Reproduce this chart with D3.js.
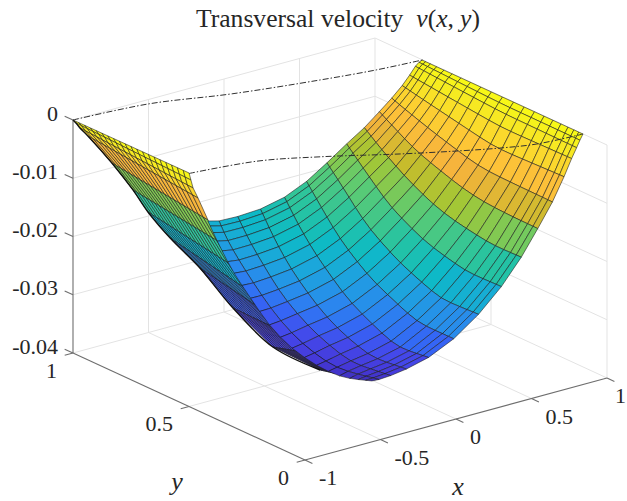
<!DOCTYPE html>
<html>
<head>
<meta charset="utf-8">
<script src="https://cdn.jsdelivr.net/npm/d3@7"></script>
<style>
  html, body { margin: 0; background: #fff; overflow: hidden; }
  text { font-family: "Liberation Serif", serif; fill: #262626; }
</style>
</head>
<body>
<div id="chart"></div>
<script>
// ticks
var xTicks = [-1, -0.5, 0, 0.5, 1];
var yTicks = [0, 0.5, 1];
var zTicks = [-0.04, -0.03, -0.02, -0.01, 0];
var xTickLabels = ["-1", "-0.5", "0", "0.5", "1"];
var yTickLabels = ["0", "0.5", "1"];
var zTickLabels = ["-0.04", "-0.03", "-0.02", "-0.01", "0"];

// upper sheet of the surface, one list per mesh row
var rowX = [
  [0.997, 0.999],
  [0.987, 0.965, 0.959],
  [0.979, 0.949, 0.935],
  [0.916, 0.893, 0.904],
  [0.876, 0.782, 0.843],
  [0.818, 0.815, 0.699, 0.707],
  [0.756, 0.618, 0.553, 0.594],
  [0.698, 0.608, 0.530, 0.459, 0.437, 0.476],
  [0.592, 0.494, 0.325, 0.245, 0.273, 0.306],
  [0.407, 0.310, 0.157, 0.097, 0.061, 0.141],
  [0.257, 0.156, 0.048, -0.018, -0.040, -0.005],
  [0.100, -0.056, -0.138, -0.210, -0.202, -0.101],
  [-0.033, -0.217, -0.284, -0.346, -0.283, -0.202, -0.139],
  [-0.140, -0.269, -0.320, -0.386, -0.377, -0.353, -0.269, -0.123],
  [-0.242, -0.301, -0.316, -0.371, -0.388, -0.378, -0.266, -0.105],
  [-0.245, -0.296, -0.365, -0.407, -0.444, -0.425, -0.317, -0.206, -0.059]
];
var rowY = [
  [0.795, 0.103],
  [0.802, 0.439, 0.090],
  [0.810, 0.428, 0.087],
  [0.795, 0.391, 0.088],
  [0.799, 0.328, 0.079],
  [0.808, 0.772, 0.364, 0.042],
  [0.820, 0.571, 0.256, 0.033],
  [0.847, 0.702, 0.552, 0.380, 0.125, 0.025],
  [0.855, 0.723, 0.496, 0.280, 0.126, 0.001],
  [0.821, 0.689, 0.482, 0.305, 0.109, -0.007],
  [0.810, 0.688, 0.540, 0.372, 0.151, 0.006],
  [0.802, 0.636, 0.505, 0.321, 0.123, 0.055],
  [0.823, 0.639, 0.540, 0.361, 0.303, 0.239, 0.130],
  [0.853, 0.713, 0.628, 0.499, 0.436, 0.357, 0.282, 0.204],
  [0.872, 0.809, 0.756, 0.612, 0.540, 0.448, 0.370, 0.268],
  [0.910, 0.833, 0.724, 0.615, 0.513, 0.426, 0.380, 0.353, 0.324]
];
var rowZ = [
  [0, 0],
  [-0.0004, -0.0006, -0.0005],
  [-0.001, -0.0015, -0.0015],
  [-0.002, -0.003, -0.003],
  [-0.0035, -0.005, -0.0055],
  [-0.0055, -0.006, -0.008, -0.0085],
  [-0.0075, -0.009, -0.011, -0.012],
  [-0.0105, -0.0115, -0.0125, -0.014, -0.0155, -0.016],
  [-0.0125, -0.0135, -0.015, -0.017, -0.019, -0.0195],
  [-0.014, -0.015, -0.017, -0.0195, -0.022, -0.023],
  [-0.016, -0.017, -0.019, -0.022, -0.0255, -0.0265],
  [-0.0175, -0.0185, -0.0205, -0.0245, -0.029, -0.03],
  [-0.019, -0.02, -0.022, -0.026, -0.0295, -0.0325, -0.033],
  [-0.02, -0.021, -0.0225, -0.0255, -0.0275, -0.03, -0.0335, -0.0355],
  [-0.0205, -0.0215, -0.0235, -0.027, -0.029, -0.032, -0.036, -0.0375],
  [-0.021, -0.023, -0.0255, -0.028, -0.0305, -0.033, -0.036, -0.038, -0.039]
];
// where the mesh columns sit along a row
var colT = [0, 0.02, 0.05, 0.09, 0.135, 0.185, 0.24, 0.3, 0.365, 0.43, 0.5, 0.57, 0.635, 0.7, 0.76, 0.815, 0.865, 0.91, 0.945, 0.975, 1];

// narrow sheet seen from below on the left, rows go left end -> right end
var stripLeftX = [-1, -0.962, -0.885, -0.766, -0.621, -0.566, -0.545, -0.504, -0.387, -0.400, -0.323, -0.176];
var stripLeftY = [1, 1.012, 1.045, 1.088, 1.079, 1.024, 0.973, 0.904, 0.852, 0.701, 0.579, 0.471];
var stripRightX = [-0.995, -0.998, -0.956, -0.868, -0.736, -0.679, -0.684, -0.665, -0.526, -0.410, -0.175, -0.103];
var stripRightY = [0.503, 0.493, 0.511, 0.547, 0.590, 0.571, 0.503, 0.433, 0.438, 0.406, 0.429, 0.368];
var stripZ = [0, -0.001, -0.003, -0.006, -0.0115, -0.0155, -0.0185, -0.022, -0.027, -0.031, -0.036, -0.039];
var stripT = [0, 0.05, 0.1, 0.15, 0.2, 0.25, 0.3, 0.35, 0.4, 0.45, 0.5, 0.55, 0.6, 0.65, 0.7, 0.75, 0.8, 0.85, 0.9, 0.95, 1];

// dash-dot outlines at z = 0
var backX = [-1, -0.54, -0.1, 0.39, 0.72, 1];
var backY = [1, 0.974, 0.90, 0.841, 0.81, 0.795];
var frontX = [-1, -0.6, -0.3, 0.056, 0.325, 0.526, 0.717, 1];
var frontY = [0.5, 0.463, 0.388, 0.278, 0.203, 0.153, 0.118, 0.103];

// colours
var colorZ = [0, -0.0015, -0.004, -0.0065, -0.009, -0.0105, -0.0125, -0.0145, -0.0175, -0.0195, -0.022, -0.025, -0.028, -0.031, -0.035, -0.04];
var colorHex = ["#f9fb15", "#f5ee1f", "#fbd92c", "#fdc338", "#f5b33c", "#c8bc2c", "#a3c736", "#5fcb70", "#25c3a3", "#0dbac6", "#1ca6dc", "#2a88ee", "#3565f5", "#4448ea", "#4538d8", "#3d2db0"];

var width = 627, height = 501;
var svg = d3.select("#chart").append("svg")
  .attr("width", width)
  .attr("height", height);

// 3d box -> screen
var ox = 305, oy = 460;
var xRight = d3.scaleLinear().domain([-1, 1]).range([0, 302]);
var xUp = d3.scaleLinear().domain([-1, 1]).range([0, -82]);
var yRight = d3.scaleLinear().domain([0, 1]).range([0, -232]);
var yUp = d3.scaleLinear().domain([0, 1]).range([0, -107]);
var zUp = d3.scaleLinear().domain([-0.04, 0]).range([0, -233]);
var color = d3.scaleLinear().domain(colorZ).range(colorHex);

function project(x, y, z) {
  return [ox + xRight(x) + yRight(y), oy + xUp(x) + yUp(y) + zUp(z)];
}

// nodes along a row, spaced by screen length
function sampleRow(xs, ys, zs, ts) {
  var pts = xs.map(function(d, i) { return project(xs[i], ys[i], zs[i]); });
  var len = [0];
  for (var i = 1; i < pts.length; i++) {
    len.push(len[i-1] + Math.hypot(pts[i][0]-pts[i-1][0], pts[i][1]-pts[i-1][1]));
  }
  var total = len[len.length-1];
  return ts.map(function(t) {
    var s = t * total, k = 0;
    while (k < len.length - 2 && len[k+1] < s) k++;
    var f = (s - len[k]) / (len[k+1] - len[k]);
    var z = zs[k] + f * (zs[k+1] - zs[k]);
    var p = project(xs[k] + f * (xs[k+1]-xs[k]), ys[k] + f * (ys[k+1]-ys[k]), z);
    return {p: p, z: z};
  });
}

// takes the corners out of the hand-read rows, ends stay put
function soften(grid) {
  return grid.map(function(row, i) {
    return row.map(function(n, j) {
      var p = n.p;
      var a = (j > 0 && j < row.length - 1) ? [row[j-1].p, row[j+1].p] : [p, p];
      var b = (i > 0 && i < grid.length - 1) ? [grid[i-1][j].p, grid[i+1][j].p] : [p, p];
      return {
        p: [0.5 * p[0] + 0.15 * (a[0][0] + a[1][0]) + 0.1 * (b[0][0] + b[1][0]),
            0.5 * p[1] + 0.15 * (a[0][1] + a[1][1]) + 0.1 * (b[0][1] + b[1][1])],
        z: n.z
      };
    });
  });
}

function buildCells(grid) {
  var cells = [];
  for (var i = 0; i < grid.length - 1; i++) {
    for (var j = 0; j < grid[i].length - 1; j++) {
      var q = [grid[i][j], grid[i][j+1], grid[i+1][j+1], grid[i+1][j]];
      cells.push({
        pts: q.map(function(n) { return n.p; }),
        z: d3.mean(q, function(n) { return n.z; })
      });
    }
  }
  return cells;
}

var line3 = d3.line();
function seg(a, b) { return line3([project(a[0], a[1], a[2]), project(b[0], b[1], b[2])]); }

// grid on walls and floor
var gridSegs = [];
[-0.5, 0, 0.5].forEach(function(x) {
  gridSegs.push([[x, 0, -0.04], [x, 1, -0.04]]);
  gridSegs.push([[x, 1, -0.04], [x, 1, 0]]);
});
gridSegs.push([[-1, 0.5, -0.04], [1, 0.5, -0.04]]);
gridSegs.push([[1, 0.5, -0.04], [1, 0.5, 0]]);
zTicks.forEach(function(z) {
  gridSegs.push([[-1, 1, z], [1, 1, z]]);
  gridSegs.push([[1, 1, z], [1, 0, z]]);
});
gridSegs.push([[1, 1, -0.04], [1, 1, 0]]);
gridSegs.push([[1, 0, -0.04], [1, 0, 0]]);

svg.append("g").selectAll("path")
  .data(gridSegs)
  .enter().append("path")
  .attr("d", function(d) { return seg(d[0], d[1]); })
  .attr("fill", "none")
  .attr("stroke", "#e3e3e3")
  .attr("stroke-width", 1);

// axes
var axisSegs = [
  [[-1, 1, -0.04], [-1, 1, 0]],
  [[-1, 0, -0.04], [-1, 1, -0.04]],
  [[-1, 0, -0.04], [1, 0, -0.04]]
];
xTicks.forEach(function(x) { axisSegs.push([[x, 0, -0.04], [x, -0.032, -0.04]]); });
yTicks.forEach(function(y) { axisSegs.push([[-1, y, -0.04], [-1.055, y, -0.04]]); });
zTicks.forEach(function(z) { axisSegs.push([[-1, 1, z], [-1, 1.036, z]]); });

svg.append("g").selectAll("path")
  .data(axisSegs)
  .enter().append("path")
  .attr("d", function(d) { return seg(d[0], d[1]); })
  .attr("fill", "none")
  .attr("stroke", "#6e6e6e")
  .attr("stroke-width", 1.1);

// surface
var stripGrid = stripZ.map(function(z, i) {
  return sampleRow([stripLeftX[i], stripRightX[i]], [stripLeftY[i], stripRightY[i]], [z, z], stripT);
});
var topGrid = soften(soften(rowX.map(function(d, i) { return sampleRow(rowX[i], rowY[i], rowZ[i], colT); })));

function drawSheet(grid) {
  svg.append("g").selectAll("path")
    .data(buildCells(grid))
    .enter().append("path")
    .attr("d", function(d) { return line3(d.pts) + "Z"; })
    .attr("fill", function(d) { return color(d.z); })
    .attr("stroke", "#1c1c1c")
    .attr("stroke-opacity", 0.72)
    .attr("stroke-width", 0.8)
    .attr("stroke-linejoin", "round");
}

drawSheet(stripGrid);

// dark lower rim of the narrow sheet
svg.append("path")
  .attr("d", d3.line().curve(d3.curveCatmullRom)(stripGrid.map(function(r) { return r[0].p; })))
  .attr("fill", "none")
  .attr("stroke", "#111")
  .attr("stroke-width", 1.4);

drawSheet(topGrid);

// dash-dot outlines
var outline = d3.line().curve(d3.curveCatmullRom);
[[backX, backY], [frontX, frontY]].forEach(function(c) {
  svg.append("path")
    .attr("d", outline(c[0].map(function(x, i) { return project(x, c[1][i], 0); })))
    .attr("fill", "none")
    .attr("stroke", "#303030")
    .attr("stroke-width", 1)
    .attr("stroke-dasharray", "6 2 1.5 2");
});

// tick labels
xTicks.forEach(function(x, i) {
  var p = project(x, 0, -0.04);
  var last = i == xTicks.length - 1;
  svg.append("text").attr("x", last ? width - 1 : p[0] + 14).attr("y", p[1] + 25)
    .attr("text-anchor", last ? "end" : "start")
    .attr("font-size", 22).text(xTickLabels[i]);
});
yTicks.forEach(function(y, i) {
  var p = project(-1, y, -0.04);
  svg.append("text").attr("x", p[0] - 16).attr("y", p[1] + 24.5)
    .attr("text-anchor", "end").attr("font-size", 22).text(yTickLabels[i]);
});
zTicks.forEach(function(z, i) {
  var p = project(-1, 1, z);
  svg.append("text").attr("x", p[0] - 15).attr("y", p[1] + 0.5)
    .attr("text-anchor", "end").attr("font-size", 22).text(zTickLabels[i]);
});

// axis names
svg.append("text").attr("x", 458).attr("y", 495).attr("text-anchor", "middle")
  .attr("font-size", 26).attr("font-style", "italic").text("x");
svg.append("text").attr("x", 177).attr("y", 490).attr("text-anchor", "middle")
  .attr("font-size", 26).attr("font-style", "italic").text("y");

// title
var title = svg.append("text").attr("x", 196).attr("y", 27).attr("font-size", 25.6);
title.append("tspan").text("Transversal velocity");
title.append("tspan").attr("dx", 13).attr("font-style", "italic").text("v");
title.append("tspan").text("(");
title.append("tspan").attr("font-style", "italic").text("x");
title.append("tspan").text(",");
title.append("tspan").attr("dx", 6).attr("font-style", "italic").text("y");
title.append("tspan").text(")");
</script>
</body>
</html>
